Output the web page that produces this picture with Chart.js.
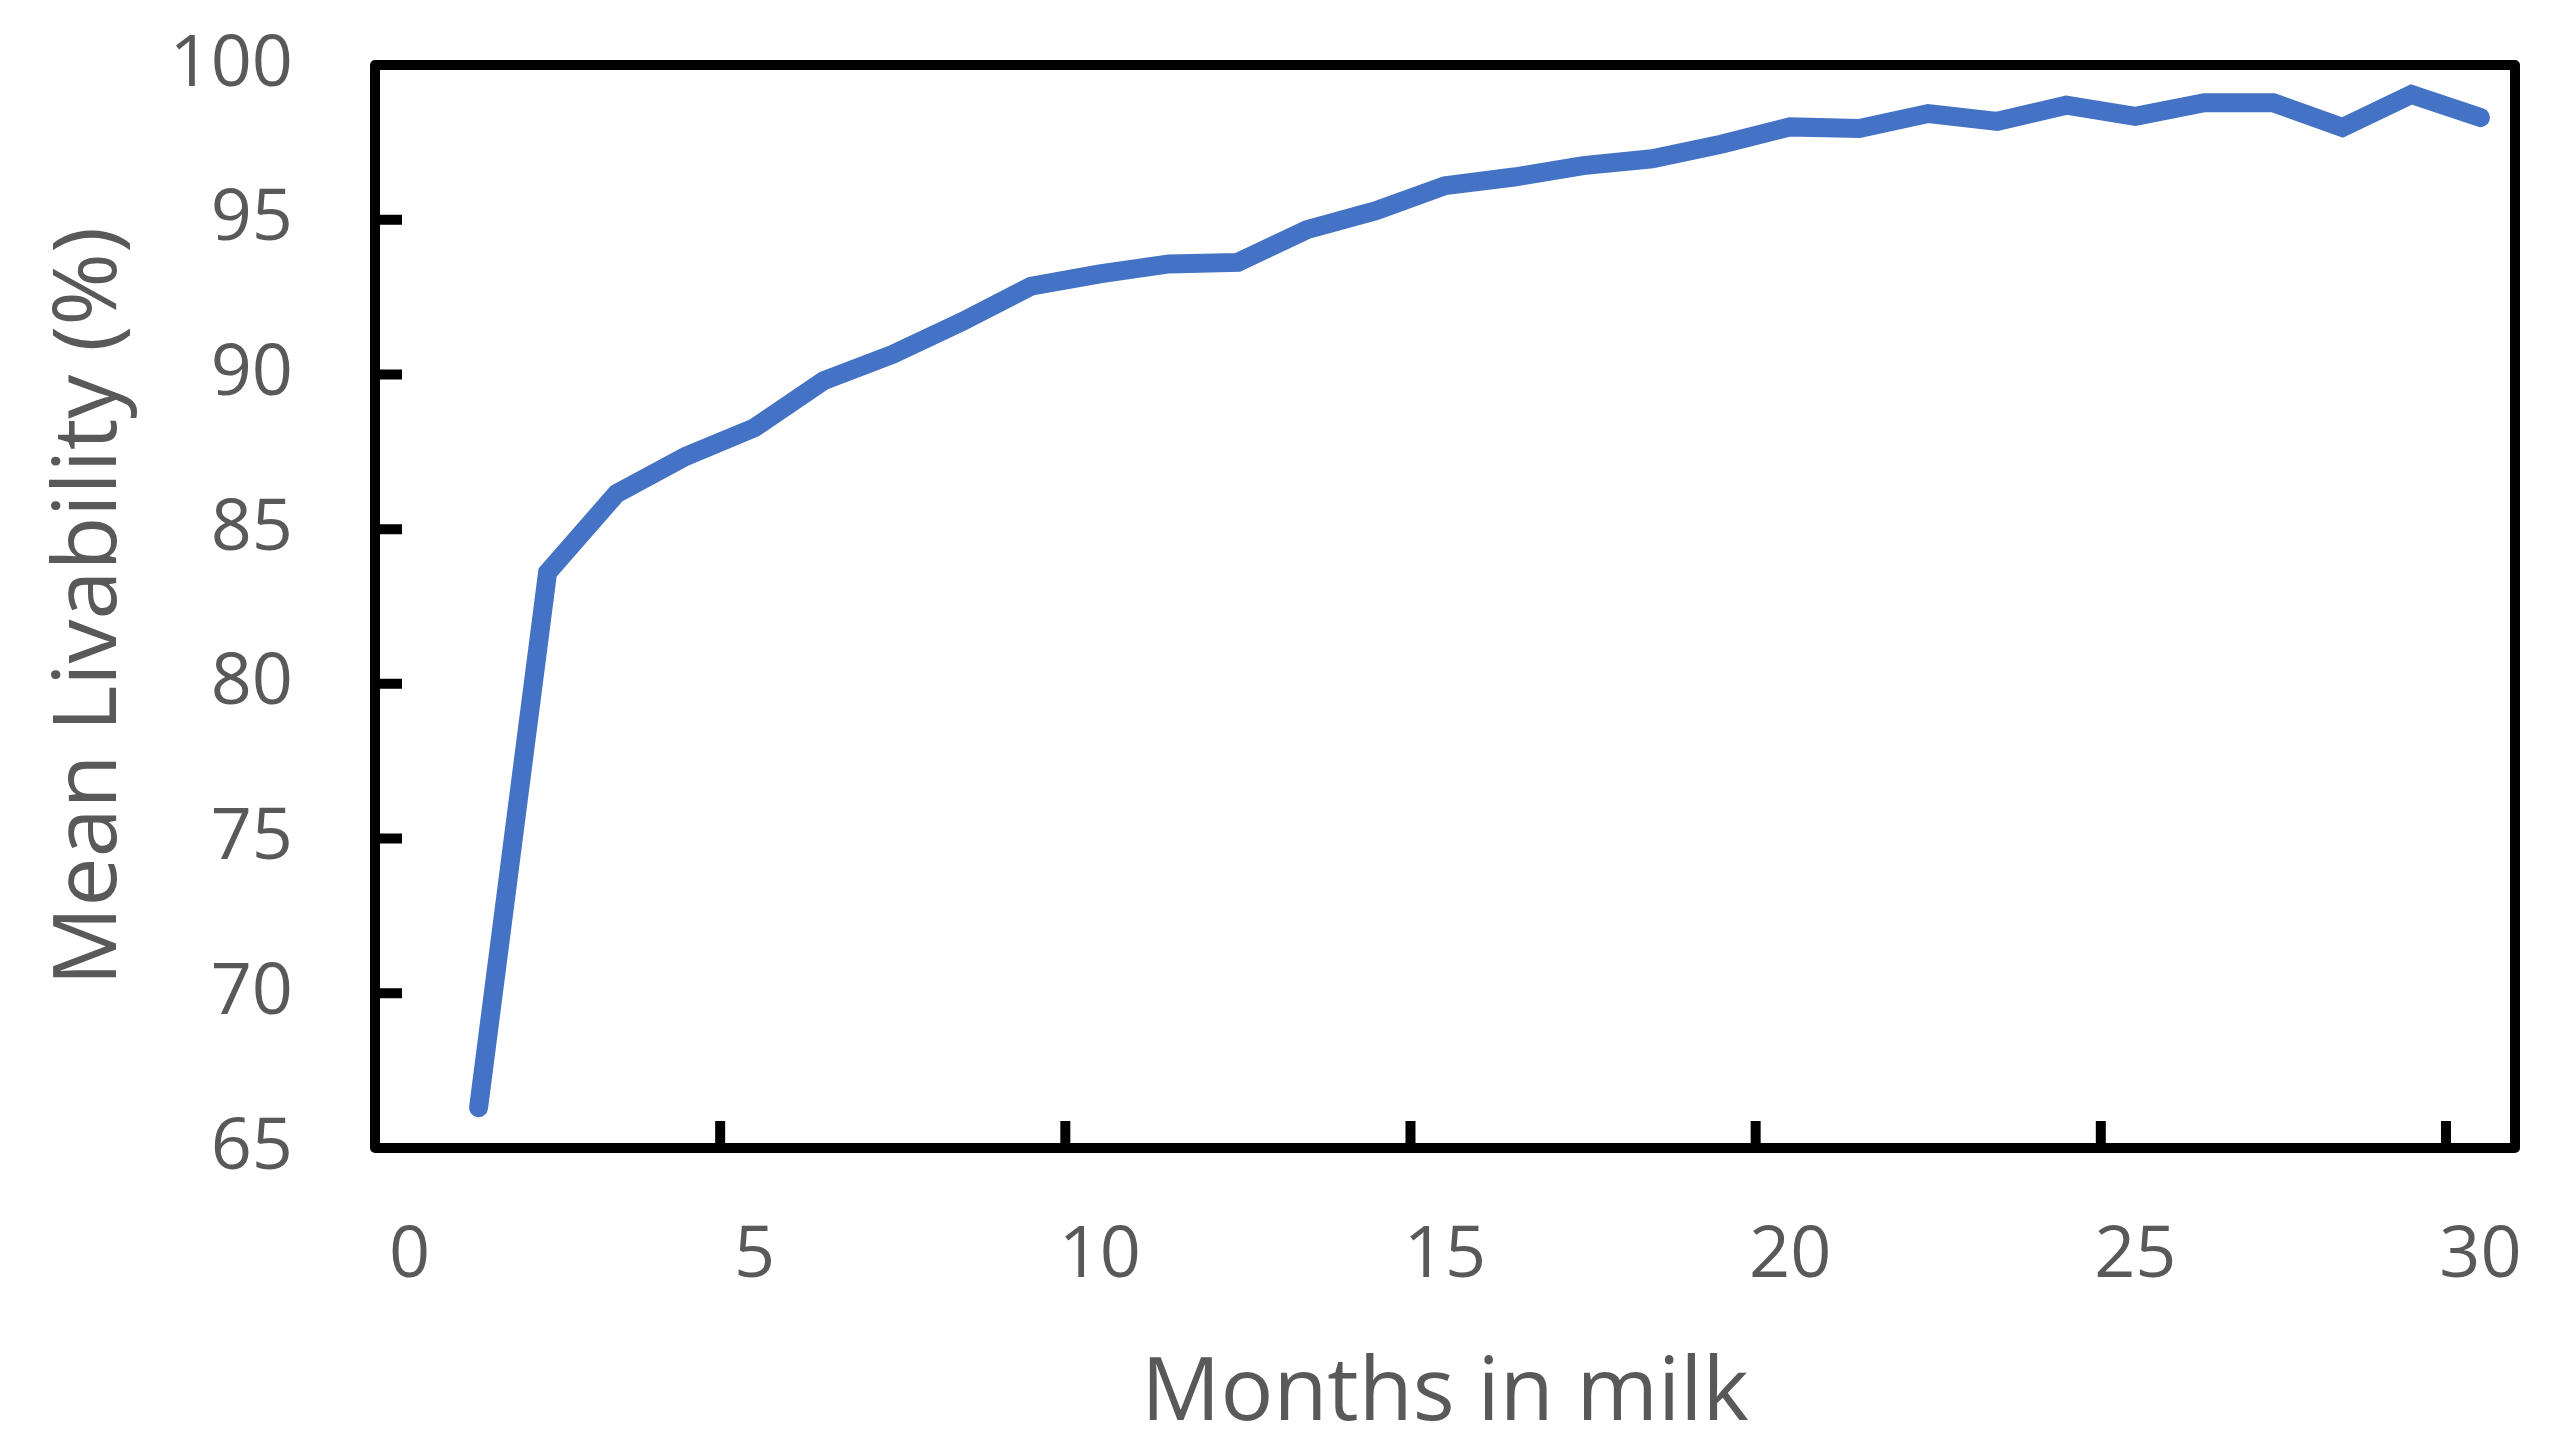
<!DOCTYPE html>
<html>
<head>
<meta charset="utf-8">
<script src="https://cdn.jsdelivr.net/npm/chart.js@4.4.1/dist/chart.umd.min.js"></script>
<style>
  html, body { margin: 0; padding: 0; background: #fff; }
  #wrap { width: 2559px; height: 1448px; position: relative; }
</style>
</head>
<body>
<div id="wrap"><canvas id="livChart"></canvas></div>
<script>
// months in milk and mean livability (%)
const months = [1, 2, 3, 4, 5, 6, 7, 8, 9, 10, 11, 12, 13, 14, 15,
                16, 17, 18, 19, 20, 21, 22, 23, 24, 25, 26, 27, 28, 29, 30];
const livability = [66.3, 83.6, 86.15, 87.35, 88.28, 89.8, 90.65, 91.7, 92.85, 93.25,
                    93.57, 93.62, 94.68, 95.29, 96.1, 96.38, 96.75, 96.97, 97.44, 98.0,
                    97.95, 98.43, 98.18, 98.7, 98.34, 98.78, 98.78, 97.98, 99.05, 98.3];
const xTicks = [0, 5, 10, 15, 20, 25, 30];
const yTicks = [65, 70, 75, 80, 85, 90, 95, 100];

const textColor = "#595959";
const fontFamily = "'Open Sans', 'Noto Sans', sans-serif";

// box around the plot + short inward tick marks (Excel style)
const framePlugin = {
    id: "frame",
    afterDatasetsDraw(chart) {
        const { ctx, chartArea: a, scales } = chart;
        ctx.save();
        ctx.strokeStyle = "#000";
        ctx.lineWidth = 10;
        ctx.lineJoin = "round";
        ctx.strokeRect(a.left, a.top, a.right - a.left, a.bottom - a.top);
        ctx.beginPath();
        // x tick marks sit half a month left of their labels
        scales.x.ticks.forEach(t => {
            const px = scales.x.getPixelForValue(t.value - 0.5);
            ctx.moveTo(px, a.bottom);
            ctx.lineTo(px, a.bottom - 27);
        });
        scales.y.ticks.forEach(t => {
            const py = scales.y.getPixelForValue(t.value);
            ctx.moveTo(a.left, py);
            ctx.lineTo(a.left + 27, py);
        });
        ctx.stroke();
        ctx.restore();
    }
};

const ctx = document.getElementById("livChart").getContext("2d");

new Chart(ctx, {
    type: "line",
    data: {
        datasets: [{
            label: "Mean Livability",
            data: months.map((m, i) => ({ x: m, y: livability[i] })),
            borderColor: "#4472C4",
            borderWidth: 19,
            borderCapStyle: "round",
            borderJoinStyle: "miter",
            pointRadius: 0,
            tension: 0,
            fill: false
        }]
    },
    options: {
        responsive: true,
        maintainAspectRatio: false,
        animation: false,
        layout: { padding: { top: 65, right: 44, left: 0, bottom: 0 } },
        plugins: {
            legend: { display: false },
            tooltip: { enabled: false }
        },
        scales: {
            x: {
                type: "linear",
                min: -0.5,
                max: 30.5,
                afterBuildTicks: scale => { scale.ticks = xTicks.map(v => ({ value: v })); },
                afterFit: scale => {
                    scale.height = 300;
                    scale.paddingLeft = 0;
                    scale.paddingRight = 0;
                },
                grid: { display: false, drawTicks: false },
                border: { display: false },
                ticks: {
                    padding: 65,
                    maxRotation: 0,
                    autoSkip: false,
                    color: textColor,
                    font: { family: fontFamily, size: 72 }
                },
                title: {
                    display: true,
                    text: "Months in milk",
                    color: textColor,
                    font: { family: fontFamily, size: 88 },
                    padding: { top: 0, bottom: 0 }
                }
            },
            y: {
                min: 65,
                max: 100,
                afterBuildTicks: scale => { scale.ticks = yTicks.map(v => ({ value: v })); },
                afterFit: scale => {
                    scale.width = 375;
                    scale.paddingTop = 0;
                    scale.paddingBottom = 0;
                },
                grid: { display: false, drawTicks: false },
                border: { display: false },
                ticks: {
                    padding: 82,
                    color: textColor,
                    font: { family: fontFamily, size: 72 }
                },
                title: {
                    display: true,
                    text: "Mean Livability (%)",
                    color: textColor,
                    font: { family: fontFamily, size: 88 },
                    padding: { top: 38, bottom: 0 }
                }
            }
        }
    },
    plugins: [framePlugin]
});
</script>
</body>
</html>
